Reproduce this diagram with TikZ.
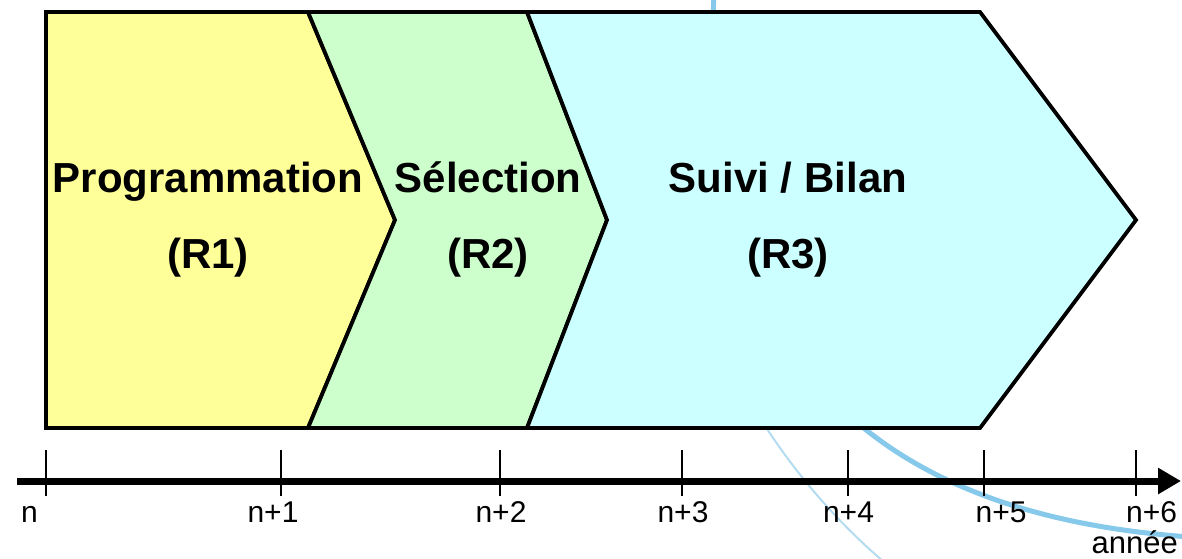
\documentclass[tikz,border=0pt]{standalone}
\usepackage{fontspec}
\setmainfont{Liberation Sans}
\usetikzlibrary{arrows.meta}
\definecolor{pyellow}{HTML}{FFFF99}
\definecolor{pgreen}{HTML}{CCFFCC}
\definecolor{pcyan}{HTML}{CCFFFF}
\definecolor{swoosh}{HTML}{86C9EA}
\definecolor{swooshlight}{HTML}{B4DCF0}
\tikzset{
  phase/.style={draw=black, line width=3.8pt, line join=miter},
  title/.style={anchor=base, inner sep=0pt, font=\fontsize{42}{50}\selectfont\bfseries},
  ticklabel/.style={anchor=base, inner sep=0pt, font=\fontsize{30}{36}\selectfont},
  tickmark/.style={line width=1.5pt},
  axisline/.style={line width=7pt, -{Triangle[length=23pt,width=25pt]}},
}
\begin{document}
\begin{tikzpicture}[x=1pt,y=-1pt]
\useasboundingbox (0,0) rectangle (1182,558);
% background swooshes
\draw[swoosh, line width=5pt, line cap=round] (714,-5) .. controls (690,420) and (950,520) .. (1190,537);
\draw[swooshlight, line width=2pt] (700,300) .. controls (740,400) and (800,490) .. (884,562);
% phases
\draw[phase, fill=pyellow] (46,12) -- (308,12) -- (395,220) -- (308,428) -- (46,428) -- cycle;
\draw[phase, fill=pgreen] (308,12) -- (527,12) -- (607,220) -- (527,428) -- (308,428) -- (395,220) -- cycle;
\draw[phase, fill=pcyan] (527,12) -- (980,12) -- (1136,220) -- (980,428) -- (527,428) -- (607,220) -- cycle;
% titles
\node[title] (t1) at (208,192) {Programmation};
\node[title] (r1) at (208,268) {(R1)};
\node[title] (t2) at (488,192) {Sélection};
\node[title] (r2) at (488,268) {(R2)};
\node[title] (t3) at (788,192) {Suivi / Bilan};
\node[title] (r3) at (788,268) {(R3)};
% axis
\coordinate (axstart) at (17,481);
\coordinate (axend) at (1181,481);
\draw[axisline] (axstart) -- (axend);
\foreach \x/\n in {46/0,281/1,500/2,682/3,848/4,984/5,1136/6}{
  \coordinate (tk\n top) at (\x,450);
  \coordinate (tk\n bot) at (\x,496);
  \draw[tickmark] (tk\n top) -- (tk\n bot);
}
\node[ticklabel] (l0) at (29.5,522) {n};
\node[ticklabel] (l1) at (273,522) {n+1};
\node[ticklabel] (l2) at (501,522) {n+2};
\node[ticklabel] (l3) at (683,522) {n+3};
\node[ticklabel] (l4) at (848.5,522) {n+4};
\node[ticklabel] (l5) at (1001,522) {n+5};
\node[ticklabel] (l6) at (1151.5,522) {n+6};
\node[anchor=base east, inner sep=0pt, font=\fontsize{31}{37}\selectfont] (annee) at (1178,553) {année};
\end{tikzpicture}
\end{document}
